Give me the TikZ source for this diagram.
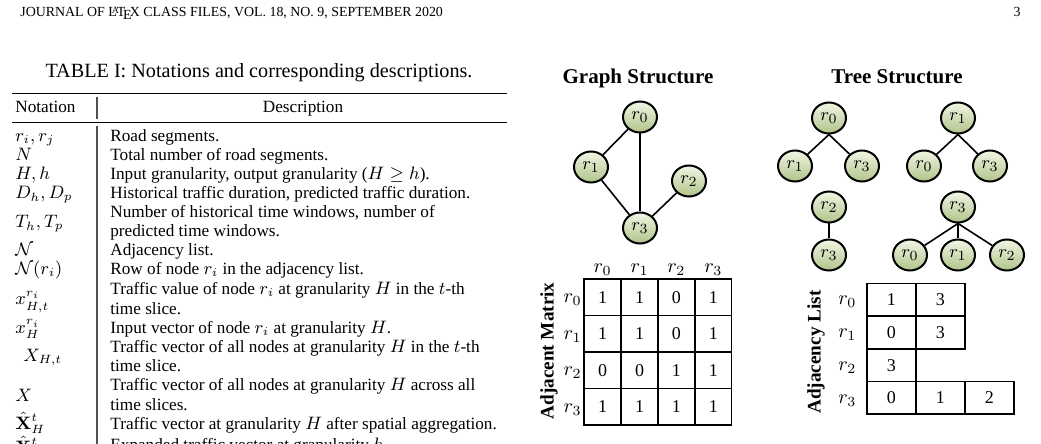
\documentclass[tikz,border=0pt]{standalone}
\usepackage[no-math]{fontspec}
\setmainfont{Liberation Serif}
\usetikzlibrary{shapes.geometric}
\definecolor{nodetop}{RGB}{241,246,228}
\definecolor{nodebot}{RGB}{176,196,138}
\definecolor{rulegray}{RGB}{80,80,80}
\newcommand{\hdfont}{\fontsize{6.95}{8}\selectfont}
\newcommand{\capfont}{\fontsize{10.1}{12}\selectfont}
\newcommand{\tabfont}{\fontsize{8.6}{9.5}\selectfont}
\newcommand{\titfont}{\fontsize{10.5}{12}\selectfont\bfseries}
\newcommand{\rotfont}{\fontsize{9.6}{11}\selectfont\bfseries}
\newcommand{\labfont}{\fontsize{10}{12}\selectfont}
\newcommand{\digfont}{\fontsize{9}{11}\selectfont}
\newcommand{\rfont}{\fontsize{9.4}{11}\selectfont}
\tikzset{
  tx/.style={anchor=base west, inner sep=0pt, font=\tabfont},
  rnode/.style={ellipse, draw=black, line width=1pt, minimum width=17pt, minimum height=15.5pt, inner sep=0pt, top color=nodetop, bottom color=nodebot, font=\rfont},
  link/.style={line width=0.8pt},
  mcell/.style={draw, line width=0.8pt, minimum width=18.42pt, minimum height=18.25pt, inner sep=0pt, font=\digfont},
  lcell/.style={draw, line width=0.8pt, minimum width=24.55pt, minimum height=16.37pt, inner sep=0pt, font=\digfont},
  lab/.style={inner sep=0pt, font=\labfont},
  rot/.style={rotate=90, inner sep=0pt, font=\rotfont},
  tit/.style={anchor=base, inner sep=0pt, font=\titfont},
  trule/.style={line width=0.8pt},
  mrule/.style={line width=0.5pt},
  vbar/.style={line width=0.7pt, draw=rulegray},
}
\begin{document}
\begin{tikzpicture}[x=0.5pt,y=-0.5pt]
\useasboundingbox (0,0) rectangle (1041,444);
% page header
\node[anchor=base west, inner sep=0pt, font=\hdfont] (hdr) at (20,16.5) {JOURNAL OF \LaTeX\ CLASS FILES, VOL.~18, NO.~9, SEPTEMBER 2020};
\node[anchor=base east, inner sep=0pt, font=\hdfont] (pg) at (1021,16.5) {3};
% caption
\node[anchor=base, inner sep=0pt, font=\capfont] (cap) at (259,78) {TABLE I: Notations and corresponding descriptions.};
% rules
\draw[trule] (12,93.5) -- (507,93.5);
\draw[mrule] (12,122.5) -- (507,122.5);
\draw[vbar] (97,97) -- (97,119);
\draw[vbar] (97,126) -- (97,450);
% header row
\node[tx] (hn) at (15,113) {Notation};
\node[tx, anchor=base] (hd) at (303,113) {Description};
% rows
\node[tx] (n1) at (15,142) {$r_i, r_j$};
\node[tx] (d1) at (110,142) {Road segments.};
\node[tx] (n2) at (15,161) {$N$};
\node[tx] (d2) at (110,161) {Total number of road segments.};
\node[tx] (n3) at (15,180) {$H, h$};
\node[tx] (d3) at (110,180) {Input granularity, output granularity ($H \geq h$).};
\node[tx] (n4) at (15,199) {$D_h, D_p$};
\node[tx] (d4) at (110,199) {Historical traffic duration, predicted traffic duration.};
\node[tx] (n5) at (15,228) {$T_h, T_p$};
\node[tx] (d5a) at (110,218) {Number of historical time windows, number of};
\node[tx] (d5b) at (110,237) {predicted time windows.};
\node[tx] (n6) at (15,256) {$\mathcal{N}$};
\node[tx] (d6) at (110,256) {Adjacency list.};
\node[tx] (n7) at (15,275) {$\mathcal{N}(r_i)$};
\node[tx] (d7) at (110,275) {Row of node $r_i$ in the adjacency list.};
\node[tx] (n8) at (15,305) {$x^{r_i}_{H,t}$};
\node[tx] (d8a) at (110,295) {Traffic value of node $r_i$ at granularity $H$ in the $t$-th};
\node[tx] (d8b) at (110,314.5) {time slice.};
\node[tx] (n9) at (15,333.5) {$x^{r_i}_{H}$};
\node[tx] (d9) at (110,333.5) {Input vector of node $r_i$ at granularity $H$.};
\node[tx] (n10) at (23,362) {$X_{H,t}$};
\node[tx] (d10a) at (110,352.5) {Traffic vector of all nodes at granularity $H$ in the $t$-th};
\node[tx] (d10b) at (110,371.5) {time slice.};
\node[tx] (n11) at (15,401) {$X$};
\node[tx] (d11a) at (110,391) {Traffic vector of all nodes at granularity $H$ across all};
\node[tx] (d11b) at (110,410) {time slices.};
\node[tx] (n12) at (15,429.5) {$\hat{\mathbf{X}}^t_H$};
\node[tx] (d12) at (110,429.5) {Traffic vector at granularity $H$ after spatial aggregation.};
\node[tx] (n13) at (15,453) {$\hat{\mathbf{X}}^t_h$};
\node[tx] (d13) at (110,451) {Expanded traffic vector at granularity $h$.};
% titles
\node[tit] (gt) at (638,84) {Graph Structure};
\node[tit] (tt) at (897,84) {Tree Structure};
% graph
\node[rnode] (g0) at (640,117) {$r_0$};
\node[rnode] (g1) at (591,167) {$r_1$};
\node[rnode] (g2) at (689,181) {$r_2$};
\node[rnode] (g3) at (640,228) {$r_3$};
\draw[link] (g0) -- (g1);
\draw[link] (g0) -- (g3);
\draw[link] (g1) -- (g3);
\draw[link] (g2) -- (g3);
% trees
\node[rnode] (a0) at (829,118) {$r_0$};
\node[rnode] (a1) at (795,166) {$r_1$};
\node[rnode] (a3) at (862,166) {$r_3$};
\draw[link] (a0.south) -- (a1);
\draw[link] (a0.south) -- (a3);
\node[rnode] (b1) at (958,118) {$r_1$};
\node[rnode] (b0) at (924,166) {$r_0$};
\node[rnode] (b3) at (990,166) {$r_3$};
\draw[link] (b1.south) -- (b0);
\draw[link] (b1.south) -- (b3);
\node[rnode] (c2) at (829,207) {$r_2$};
\node[rnode] (c3) at (829,255) {$r_3$};
\draw[link] (c2) -- (c3);
\node[rnode] (d3) at (958,207) {$r_3$};
\node[rnode] (d0) at (910,255) {$r_0$};
\node[rnode] (d1) at (958,255) {$r_1$};
\node[rnode] (d2) at (1007,255) {$r_2$};
\draw[link] (d3.south) -- (d0);
\draw[link] (d3.south) -- (d1);
\draw[link] (d3.south) -- (d2);
% adjacent matrix
\foreach \v [count=\k from 0] in {1,1,0,1, 1,1,0,1, 0,0,1,1, 1,1,1,1}{
  \pgfmathtruncatemacro{\ri}{int(\k/4)}
  \pgfmathtruncatemacro{\ci}{mod(\k,4)}
  \node[mcell] (m-\ri-\ci) at ({602.7+36.85*\ci},{297.25+36.5*\ri}) {\v};
}
\foreach \c in {0,1,2,3}{
  \node[lab, anchor=base] (mc\c) at ({602.7+36.85*\c},273) {$r_\c$};
  \node[lab, anchor=base east] (mr\c) at (582,{303+36.5*\c}) {$r_\c$};
}
\node[rot] (amt) at (549,351) {Adjacent Matrix};
% adjacency list
\node[lcell] (l00) at (891.25,299.7) {1};
\node[lcell] (l01) at (940.35,299.7) {3};
\node[lcell] (l10) at (891.25,332.4) {0};
\node[lcell] (l11) at (940.35,332.4) {3};
\node[lcell] (l20) at (891.25,365.2) {3};
\node[lcell] (l30) at (891.25,397.9) {0};
\node[lcell] (l31) at (940.35,397.9) {1};
\node[lcell] (l32) at (989.45,397.9) {2};
\foreach \c in {0,1,2,3}{
  \node[lab, anchor=base west] (lr\c) at (838,{305+32.75*\c}) {$r_\c$};
}
\node[rot] (alt) at (816,352) {Adjacency List};
\end{tikzpicture}
\end{document}
